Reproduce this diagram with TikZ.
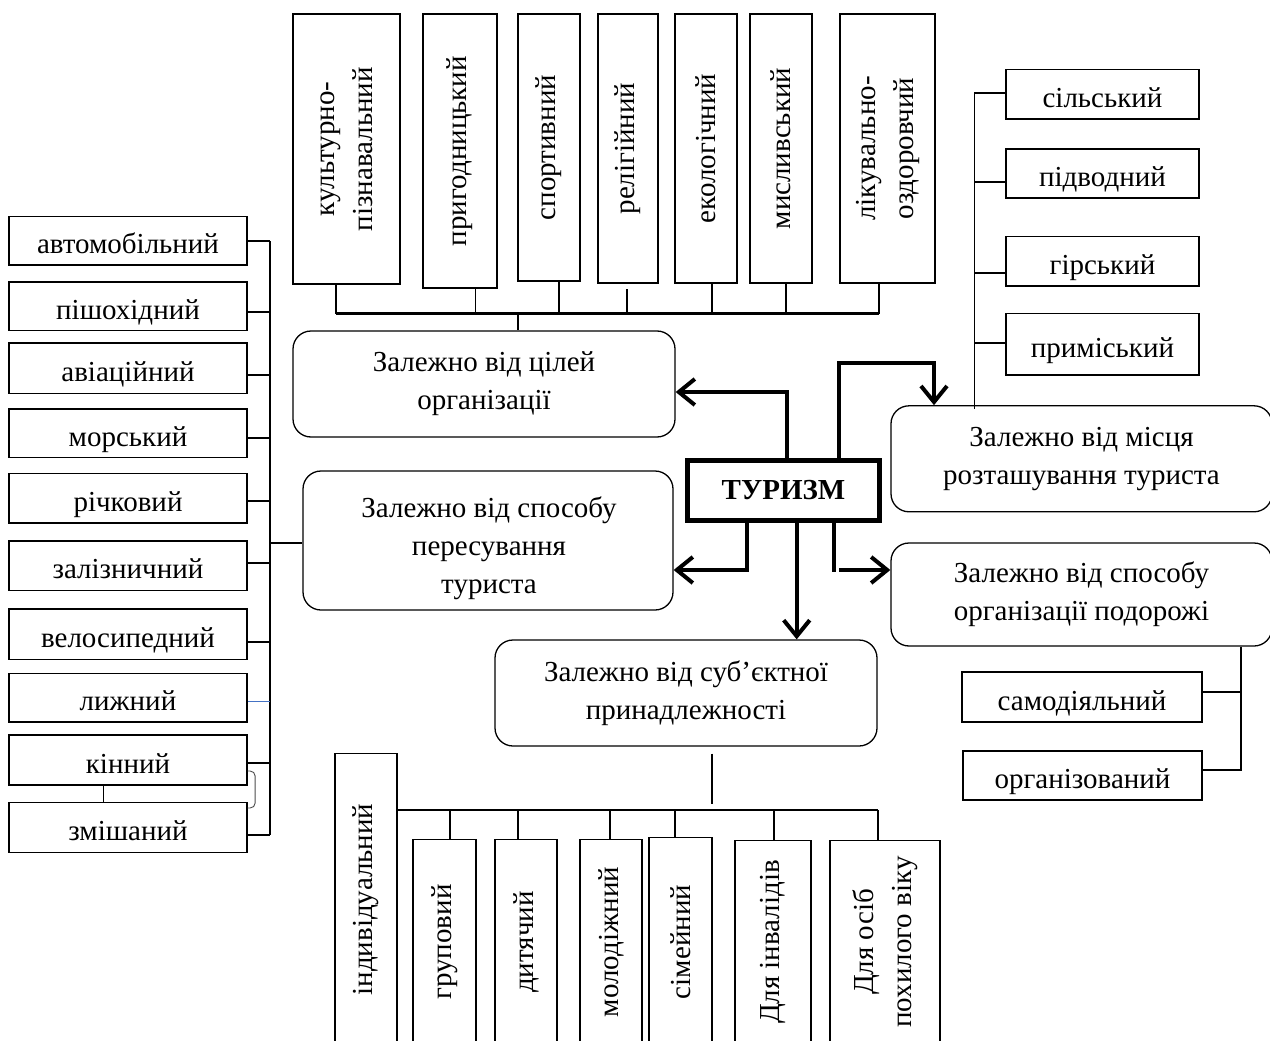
\documentclass[tikz,border=0pt]{standalone}
\usepackage{fontspec}
\setmainfont{Liberation Serif}
\usetikzlibrary{arrows.meta,calc}
\definecolor{tickblue}{RGB}{68,114,196}
\begin{document}
\begin{tikzpicture}[x=1pt,y=-1pt,
  every node/.style={font=\fontsize{29}{38}\selectfont, inner sep=0pt},
  rbox/.style={draw, line width=1.3pt, rectangle},
  rnd/.style={draw, line width=1.3pt, rounded corners=18pt, rectangle, align=center},
  lbl/.style={text height=26pt, text depth=0pt},
  bus/.style={line width=2.2pt},
  tk/.style={line width=1.6pt},
  ln/.style={line width=4pt},
  arr/.style={line width=4pt, -{Straight Barb[length=16pt,width=26pt]}},
  vtxt/.style={rotate=90, align=center},
  br/.style={line width=0.9pt, black!70, rounded corners=5pt}]
\useasboundingbox (0,0) rectangle (1270,1041);
\clip (0,0) rectangle (1270,1041);

% ---------- top row ----------
\node[rbox,minimum width=107pt,minimum height=270pt] (k1) at (346.5,149) {};
\node[vtxt] (k1t) at (k1) {культурно-\\пізнавальний};
\node[rbox,minimum width=74pt,minimum height=274pt] (k2) at (460,151) {};
\node[vtxt] (k2t) at (k2) {пригодницький};
\node[rbox,minimum width=62pt,minimum height=267pt] (k3) at (549,147.5) {};
\node[vtxt] (k3t) at (k3) {спортивний};
\node[rbox,minimum width=60pt,minimum height=269pt] (k4) at (628,148.5) {};
\node[vtxt] (k4t) at (k4) {релігійний};
\node[rbox,minimum width=62pt,minimum height=269pt] (k5) at (706,148.5) {};
\node[vtxt] (k5t) at (k5) {екологічний};
\node[rbox,minimum width=62pt,minimum height=269pt] (k6) at (781,148.5) {};
\node[vtxt] (k6t) at (k6) {мисливський};
\node[rbox,minimum width=95pt,minimum height=269pt] (k7) at (887.5,148.5) {};
\node[vtxt] (k7t) at (k7) {лікувально-\\оздоровчий};

% ---------- rounded category boxes ----------
\node[rnd,minimum width=382pt,minimum height=106pt] (cil) at (484,384) {Залежно від цілей\\організації};
\node[rnd,minimum width=381pt,minimum height=106pt] (mis) at (1081.5,458.8) {Залежно від місця\\розташування туриста};
\node[rnd,minimum width=370pt,minimum height=139pt] (per) at (488,540.5) {};
\node[align=center] (pert) at (489,548) {Залежно від способу\\пересування\\туриста};
\node[rnd,minimum width=381pt,minimum height=103pt] (org) at (1081.5,594.5) {Залежно від способу\\організації подорожі};
\node[rnd,minimum width=382pt,minimum height=106pt] (sub) at (686,693) {Залежно від суб’єктної\\принадлежності};
\node[draw,line width=5pt,minimum width=192pt,minimum height=60pt,font=\bfseries\fontsize{29}{35}\selectfont] (tur) at (783.5,490.5) {ТУРИЗМ};

% top bus
\coordinate (c1) at (335.7,313.5);
\coordinate (c2) at (475.3,313.5);
\coordinate (c3) at (559,313.5);
\coordinate (c4) at (627,313.5);
\coordinate (c4a) at (627,289);
\coordinate (c5) at (712,313.5);
\coordinate (c6) at (786,313.5);
\coordinate (c7) at (879,313.5);
\coordinate (cm) at (517.7,313.5);
\draw[bus] (c1) -- (c7);
\foreach \i in {1,2,3,5,6,7} \draw[tk] (k\i.south -| c\i) -- (c\i);
\draw[tk] (c4a) -- (c4);
\draw[tk] (cm) -- (cil.north -| cm);

% ---------- arrows from ТУРИЗМ ----------
\coordinate (a1) at (786.7,392);
\draw[arr] (tur.north -| a1) -- (a1) -- (cil.east |- a1);
\coordinate (a2) at (839,363);
\coordinate (a2b) at (934,363);
\draw[arr] (tur.north -| a2) -- (a2) -- (a2b) -- (mis.north -| a2b);
\coordinate (a3) at (747,570);
\draw[arr] (tur.south -| a3) -- (a3) -- (per.east |- a3);
\coordinate (a4) at (796.7,600);
\draw[arr] (tur.south -| a4) -- (sub.north -| a4);
\coordinate (a5) at (834,572);
\draw[ln] (tur.south -| a5) -- (a5);
\coordinate (a6) at (839,570);
\draw[arr] (a6) -- (org.west |- a6);

% ---------- place boxes ----------
\node[rbox,minimum width=193pt,minimum height=49.7pt,lbl] (p1) at (1102.5,94.2) {сільський};
\node[rbox,minimum width=193pt,minimum height=49pt,lbl] (p2) at (1102.5,173.5) {підводний};
\node[rbox,minimum width=193pt,minimum height=49.3pt,lbl] (p3) at (1102.5,261.4) {гірський};
\node[rbox,minimum width=193pt,minimum height=61.7pt,lbl] (p4) at (1102.5,344.2) {приміський};
\coordinate (pt1) at (974.4,93.3);
\coordinate (pt2) at (974.4,181.7);
\coordinate (pt3) at (974.4,273);
\coordinate (pt4) at (974.4,343);
\coordinate (pv) at (974.4,409);
\draw[tk] (pt1) -- (pv);
\foreach \i in {1,...,4} \draw[tk] (pt\i) -- (p\i.west |- pt\i);

% ---------- organisation children ----------
\node[rbox,minimum width=240pt,minimum height=50pt,lbl] (o1) at (1082,697) {самодіяльний};
\node[rbox,minimum width=239pt,minimum height=49pt,lbl] (o2) at (1082.5,775.5) {організований};
\coordinate (ov) at (1240.7,770);
\coordinate (ot1) at (1240.7,692);
\draw[tk] (org.south -| ov) -- (ov) -- (o2.east |- ov);
\draw[tk] (ot1) -- (o1.east |- ot1);

% ---------- transport boxes ----------
\node[rbox,minimum width=238pt,minimum height=48.2pt,lbl] (t1) at (128,240.9) {автомобільний};
\node[rbox,minimum width=238pt,minimum height=48.5pt,lbl] (t2) at (128,306.25) {пішохідний};
\node[rbox,minimum width=238pt,minimum height=50.6pt,lbl] (t3) at (128,368.3) {авіаційний};
\node[rbox,minimum width=238pt,minimum height=48.6pt,lbl] (t4) at (128,433.3) {морський};
\node[rbox,minimum width=238pt,minimum height=49.4pt,lbl] (t5) at (128,498.3) {річковий};
\node[rbox,minimum width=238pt,minimum height=49.6pt,lbl] (t6) at (128,565.8) {залізничний};
\node[rbox,minimum width=238pt,minimum height=50.6pt,lbl] (t7) at (128,634.3) {велосипедний};
\node[rbox,minimum width=238pt,minimum height=48.5pt,lbl] (t8) at (128,697.75) {лижний};
\node[rbox,minimum width=238pt,minimum height=50pt,lbl] (t9) at (128,760) {кінний};
\node[rbox,minimum width=238pt,minimum height=50pt,lbl] (t10) at (128,827.7) {змішаний};
\coordinate (l1) at (270,241);
\coordinate (l2) at (270,312);
\coordinate (l3) at (270,374.7);
\coordinate (l4) at (270,437.8);
\coordinate (l5) at (270,501);
\coordinate (l6) at (270,563);
\coordinate (l7) at (270,642);
\coordinate (l8) at (270,701);
\coordinate (l9) at (270,762.7);
\coordinate (l10) at (270,835);
\draw[bus] (l1) -- (l10);
\foreach \i in {1,2,3,4,5,6,7,9,10} \draw[tk] (t\i.east |- l\i) -- (l\i);
\draw[line width=0.9pt, tickblue] (t8.east |- l8) -- (l8);
\coordinate (lp) at (270,543);
\draw[tk] (lp) -- (per.west |- lp);
\draw[br] ([yshift=-11pt]t9.east) -- ++(7.5,0) -- ++(0,37) -- ++(-7.5,0);
\draw[line width=1pt] ([xshift=-25pt]t9.south) -- ([xshift=-25pt]t10.north);

% ---------- subject boxes ----------
\node[rbox,anchor=north,minimum width=62pt,minimum height=320pt] (b1) at (366,752.7) {};
\node[vtxt] (b1t) at (366,899.5) {індивідуальний};
\node[rbox,anchor=north,minimum width=63pt,minimum height=320pt] (b2) at (444.5,839) {};
\node[vtxt] (b2t) at (444.5,942) {груповий};
\node[rbox,anchor=north,minimum width=62pt,minimum height=320pt] (b3) at (526,839) {};
\node[vtxt] (b3t) at (526,942) {дитячий};
\node[rbox,anchor=north,minimum width=62pt,minimum height=320pt] (b4) at (611,839) {};
\node[vtxt] (b4t) at (611,942) {молодіжний};
\node[rbox,anchor=north,minimum width=63pt,minimum height=320pt] (b5) at (680.5,837) {};
\node[vtxt] (b5t) at (680.5,942) {сімейний};
\node[rbox,anchor=north,minimum width=76pt,minimum height=320pt] (b6) at (773,840) {};
\node[vtxt] (b6t) at (773,942) {Для інвалідів};
\node[rbox,anchor=north,minimum width=110pt,minimum height=320pt] (b7) at (885,840) {};
\node[vtxt] (b7t) at (885,942) {Для осіб\\похилого віку};
\coordinate (bb2) at (450,810);
\coordinate (bb3) at (517.7,810);
\coordinate (bb4) at (610,810);
\coordinate (bb5) at (675,810);
\coordinate (bb6) at (774,810);
\coordinate (bb7) at (878,810);
\draw[bus] (b1.east |- bb2) -- (bb7);
\foreach \i in {2,...,7} \draw[tk] (bb\i) -- (b\i.north -| bb\i);
\coordinate (sv) at (712,804);
\draw[tk] ($(sub.south -| sv)+(0,7)$) -- (sv);
\end{tikzpicture}
\end{document}
